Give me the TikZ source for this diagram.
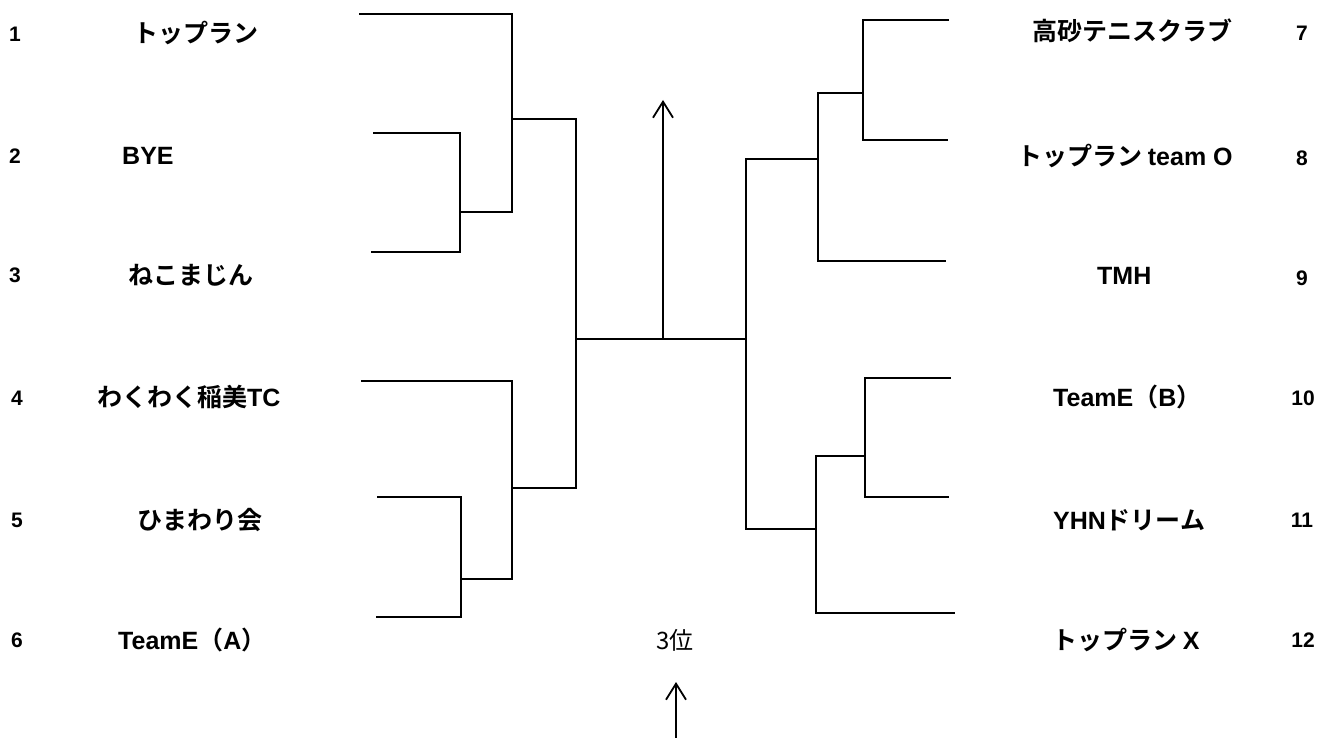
\documentclass[tikz,border=0pt]{standalone}
\usepackage{fontspec}
\setmainfont{Noto Sans CJK JP}[BoldFont={Noto Sans CJK JP Bold}]
\newfontfamily\latfont{Liberation Sans}
\newcommand{\lat}[1]{{\latfont\bfseries #1}}
\usetikzlibrary{arrows.meta}
\begin{document}
\begin{tikzpicture}[x=1pt,y=-1pt,
  line/.style={line width=2.2pt},
  arr/.style={line width=1.8pt,-{Straight Barb[length=16pt,width=20pt,line width=1.8pt]}},
  team/.style={inner sep=0pt,anchor=west,font=\fontsize{25}{30}\selectfont\bfseries},
  num/.style={inner sep=0pt,font=\fontsize{21}{25}\selectfont\latfont\bfseries},
  third/.style={inner sep=0pt,font=\fontsize{24}{28}\selectfont}]
\useasboundingbox[fill=white] (0,0) rectangle (1318,738);
% left numbers and teams
\node[num] (n1) at (15,34) {1};
\node[num] (n2) at (15,156) {2};
\node[num] (n3) at (15,275) {3};
\node[num] (n4) at (17,398) {4};
\node[num] (n5) at (17,520) {5};
\node[num] (n6) at (17,640) {6};
\node[team] (t1) at (133,33) {トップラン};
\node[team] (t2) at (122,156) {\lat{BYE}};
\node[team] (t3) at (128,275) {ねこまじん};
\node[team] (t4) at (97,397) {わくわく稲美\lat{TC}};
\node[team] (t5) at (137,520) {ひまわり会};
\node[team] (t6) at (118,640) {\lat{TeamE}（\lat{A}）};
% right numbers and teams
\node[team] (t7) at (1032,31) {高砂テニスクラブ};
\node[team] (t8) at (1017,156) {トップラン \lat{team O}};
\node[team] (t9) at (1097,276) {\lat{TMH}};
\node[team] (t10) at (1053,397) {\lat{TeamE}（\lat{B}）};
\node[team] (t11) at (1053,520) {\lat{YHN}ドリーム};
\node[team] (t12) at (1052,640) {トップラン \lat{X}};
\node[num] (n7) at (1302,33) {7};
\node[num] (n8) at (1302,158) {8};
\node[num] (n9) at (1302,278) {9};
\node[num] (n10) at (1303,398) {10};
\node[num] (n11) at (1302,520) {11};
\node[num] (n12) at (1303,640) {12};
\node[third] (third) at (675,640) {3位};
% coordinates - left
\coordinate (a1) at (359,14);  \coordinate (b1) at (512,14);
\coordinate (a2) at (373,133); \coordinate (b2) at (460,133);
\coordinate (a3) at (371,252); \coordinate (b3) at (460,252);
\coordinate (j23) at (460,212); \coordinate (k23) at (512,212);
\coordinate (m1) at (512,119); \coordinate (q1) at (576,119);
\coordinate (a4) at (361,381); \coordinate (b4) at (512,381);
\coordinate (a5) at (377,497); \coordinate (b5) at (461,497);
\coordinate (a6) at (376,617); \coordinate (b6) at (461,617);
\coordinate (j56) at (461,579); \coordinate (k56) at (512,579);
\coordinate (m2) at (512,488); \coordinate (q2) at (576,488);
% center
\coordinate (cl) at (576,339); \coordinate (cr) at (746,339);
\coordinate (cup) at (663,339); \coordinate (ctop) at (663,100);
\coordinate (bot) at (676,738); \coordinate (btip) at (676,682);
% right
\coordinate (r1) at (746,159); \coordinate (s1) at (818,159);
\coordinate (r2) at (746,529); \coordinate (s2) at (816,529);
\coordinate (u1) at (818,93);  \coordinate (v1) at (863,93);
\coordinate (e7) at (949,20);  \coordinate (d7) at (863,20);
\coordinate (e8) at (948,140); \coordinate (d8) at (863,140);
\coordinate (e9) at (946,261); \coordinate (d9) at (818,261);
\coordinate (u2) at (816,456); \coordinate (v2) at (865,456);
\coordinate (e10) at (951,378); \coordinate (d10) at (865,378);
\coordinate (e11) at (949,497); \coordinate (d11) at (865,497);
\coordinate (e12) at (955,613); \coordinate (d12) at (816,613);
% left bracket
\draw[line] (a1) -- (b1) -- (k23) -- (j23);
\draw[line] (a2) -- (b2) -- (b3) -- (a3);
\draw[line] (a4) -- (b4) -- (k56) -- (j56);
\draw[line] (a5) -- (b5) -- (b6) -- (a6);
\draw[line] (m1) -- (q1) -- (q2) -- (m2);
% center
\draw[line] (cl) -- (cr);
\draw[arr] (cup) -- (ctop);
\draw[arr] (bot) -- (btip);
% right bracket
\draw[line] (s1) -- (r1) -- (r2) -- (s2);
\draw[line] (e7) -- (d7) -- (d8) -- (e8);
\draw[line] (v1) -- (u1) -- (d9) -- (e9);
\draw[line] (e10) -- (d10) -- (d11) -- (e11);
\draw[line] (v2) -- (u2) -- (d12) -- (e12);
\end{tikzpicture}
\end{document}
